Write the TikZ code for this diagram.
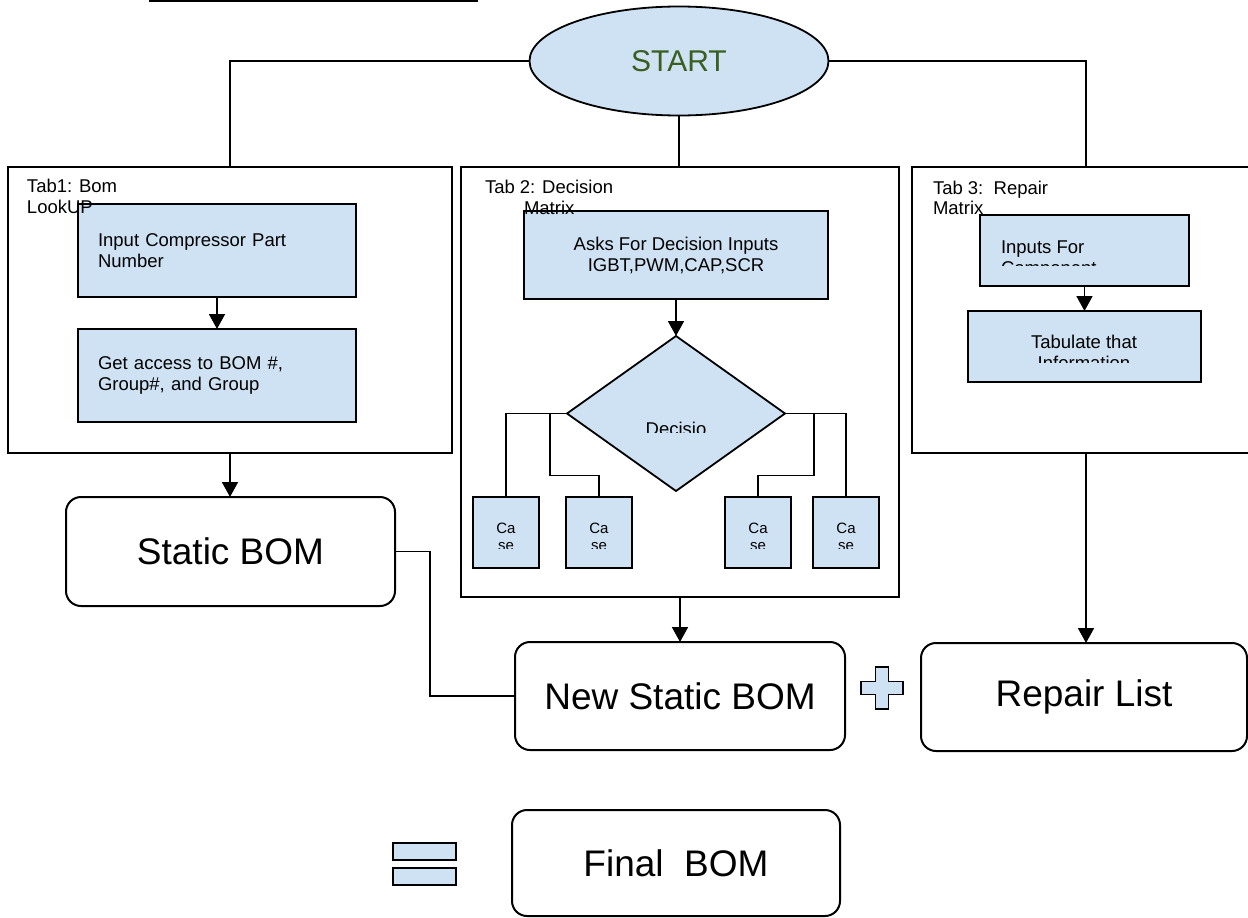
\documentclass[tikz,border=0pt]{standalone}
\usepackage{fontspec}
\setmainfont{Liberation Sans}
\usetikzlibrary{arrows.meta,shapes.geometric}
\definecolor{lb}{RGB}{207,226,243}
\definecolor{dg}{RGB}{56,94,32}
\begin{document}
\begin{tikzpicture}[x=1pt,y=-1pt,
  every node/.style={inner sep=0pt, outer sep=0pt},
  sm/.style={font=\fontsize{18.5}{21}\selectfont},
  tiny/.style={font=\fontsize{15}{17}\selectfont},
  big/.style={font=\fontsize{37}{42}\selectfont},
  frame/.style={draw, line width=2pt, anchor=north west},
  bluebox/.style={draw, fill=lb, line width=2pt, anchor=north west, sm},
  roundbox/.style={draw, line width=2pt, rounded corners=15pt, anchor=north west, big},
  conn/.style={line width=1.8pt},
  arr/.style={line width=1.8pt, -{Triangle[width=16pt,length=15pt]}},
  symb/.style={draw, fill=lb, line width=1.8pt},
  lbl/.style={sm, anchor=base west},
  clbl/.style={sm, anchor=base},
  caselbl/.style={tiny, anchor=base},
]
\useasboundingbox (0,0) rectangle (1248,918);
\clip (0,0) rectangle (1248,918);

% top rule
\draw[line width=2.4pt] (149,1) -- (478,1);

% START
\node[draw, ellipse, fill=lb, line width=1.8pt, minimum width=299pt, minimum height=109pt,
      font=\fontsize{30}{34}\selectfont, text=dg] (start) at (679,61) {START};

% tab frames
\node[frame, minimum width=444pt, minimum height=286pt] (tab1) at (8,167) {};
\node[frame, minimum width=438pt, minimum height=430pt] (tab2) at (461,167) {};
\node[frame, minimum width=348pt, minimum height=286pt] (tab3) at (912,167) {};

% tab 1 contents
\node[bluebox, minimum width=278pt, minimum height=93pt, text width=238pt, inner xsep=20pt, align=left]
  (t1a) at (78,204) {Input Compressor Part\\Number};
\node[bluebox, minimum width=278pt, minimum height=93pt, text width=238pt, inner xsep=20pt, align=left]
  (t1b) at (78,329) {Get access to BOM \#,\\Group\#, and Group};
\draw[arr] (t1a.south) -- (t1b.north);

% tab 2 contents
\node[bluebox, minimum width=304pt, minimum height=88pt, align=center]
  (t2a) at (524,211) {Asks For Decision Inputs\\IGBT,PWM,CAP,SCR};
\node[draw, diamond, fill=lb, line width=1.8pt, minimum width=218pt, minimum height=155pt]
  (dec) at (676,413.5) {};
\draw[arr] (t2a.south) -- (dec.north);
\begin{scope}
  \clip (600,400) rectangle (760,432);
  \node[clbl] (dect) at (676,435) {Decisio};
\end{scope}

\node[bluebox, minimum width=66pt, minimum height=71pt] (c1) at (473,497) {};
\node[bluebox, minimum width=66pt, minimum height=71pt] (c2) at (566,497) {};
\node[bluebox, minimum width=66pt, minimum height=71pt] (c3) at (725,497) {};
\node[bluebox, minimum width=66pt, minimum height=71pt] (c4) at (813,497) {};
\foreach \c in {c1,c2,c3,c4}{
  \begin{scope}
    \clip ([xshift=2pt,yshift=-2pt]\c.north west) rectangle ([xshift=-2pt,yshift=20pt]\c.south east);
    \node[caselbl] (\c ta) at ([yshift=-36.3pt]\c.north) {Ca};
    \node[caselbl] (\c tb) at ([yshift=-53pt]\c.north) {se};
  \end{scope}
}
\draw[conn] (dec.west) -| (c1.north);
\draw[conn] ([xshift=-17pt]dec.west) -- ++(0,62) -| (c2.north);
\draw[conn] (dec.east) -| (c4.north);
\draw[conn] ([xshift=29pt]dec.east) -- ++(0,62) -| (c3.north);

% tab 3 contents
\node[bluebox, minimum width=209pt, minimum height=71pt] (t3a) at (980,215) {};
\node[bluebox, minimum width=233pt, minimum height=71pt] (t3b) at (968,311) {};
\begin{scope}
  \clip (982,217) rectangle (1187,265);
  \node[lbl] (t3a1) at (1001,253) {Inputs For};
  \node[lbl] (t3a2) at (1001,274) {Component};
\end{scope}
\begin{scope}
  \clip (970,313) rectangle (1199,362);
  \node[clbl] (t3b1) at (1084,348) {Tabulate that};
  \node[clbl] (t3b2) at (1084,369) {Information};
\end{scope}
\draw[arr] (t3a.south) -- (t3b.north);

% tab titles (drawn over the inner boxes, as in the reference)
\node[lbl] (tab1t1) at (27,192.5) {Tab1: Bom};
\node[lbl] (tab1t2) at (27,213) {LookUP};
\node[lbl] (tab2t1) at (485,193) {Tab 2: Decision};
\node[lbl] (tab2t2) at (524,214) {Matrix};
\node[lbl] (tab3t1) at (933,194) {Tab 3:\ \ Repair};
\node[lbl] (tab3t2) at (933,214.5) {Matrix};

% START connectors
\draw[conn] (start.west) -| (tab1.north);
\draw[conn] (start.east) -| (tab3.north);
\draw[conn] (start.south) -- (start.south |- tab2.north);

% lower boxes
\node[roundbox, minimum width=329pt, minimum height=109pt] (static) at (66,497) {Static BOM};
\node[roundbox, minimum width=330pt, minimum height=108pt] (nsb) at (515,642) {New Static BOM};
\node[roundbox, minimum width=326pt, minimum height=108pt] (repair) at (921,643) {Repair List};
\node[roundbox, minimum width=328pt, minimum height=106pt] (final) at (512,810) {Final\ \ BOM};

\draw[arr] (tab1.south) -- (tab1.south |- static.north);
\draw[arr] (tab2.south -| nsb.north) -- (nsb.north);
\draw[arr] (tab3.south) -- (tab3.south |- repair.north);
\draw[conn] (static.east) -- ([xshift=35pt]static.east) |- (nsb.west);

% plus sign
\draw[symb] (875.5,667) -- (888.5,667) -- (888.5,681.5) -- (903,681.5) -- (903,694.5)
  -- (888.5,694.5) -- (888.5,709) -- (875.5,709) -- (875.5,694.5) -- (861,694.5)
  -- (861,681.5) -- (875.5,681.5) -- cycle;

% equals sign
\draw[symb] (393,843) rectangle (456,860);
\draw[symb] (393,868) rectangle (456,885);
\end{tikzpicture}
\end{document}
